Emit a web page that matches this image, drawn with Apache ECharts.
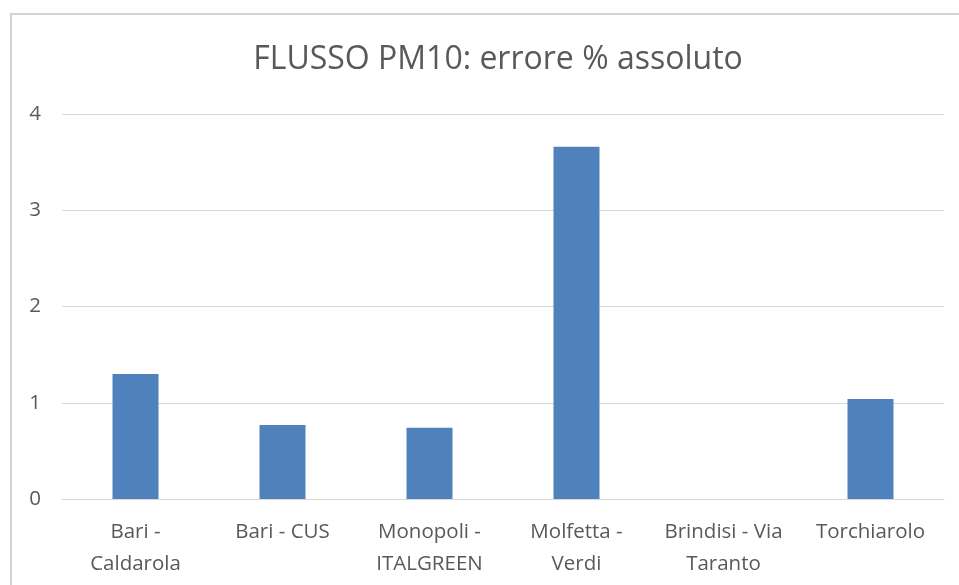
<!DOCTYPE html>
<html>
<head>
<meta charset="utf-8">
<script src="https://cdn.jsdelivr.net/npm/echarts@6/dist/echarts.min.js"></script>
<style>
  html, body { margin: 0; padding: 0; background: #fff; }
  #chart { width: 959px; height: 585px; }
</style>
</head>
<body>
<div id="chart"></div>
<script>
// stazioni (with the line breaks used on the axis)
const categories = [
  'Bari -\nCaldarola',
  'Bari - CUS',
  'Monopoli -\nITALGREEN',
  'Molfetta -\nVerdi',
  'Brindisi - Via\nTaranto',
  'Torchiarolo'
]
const errore = [1.30, 0.77, 0.74, 3.66, 0, 1.04]
const yTicks = [0, 1, 2, 3, 4]

const chart = echarts.init(document.getElementById('chart'))
const labelFont = '"Open Sans", sans-serif'

chart.setOption({
  animation: false,
  title: {
    text: 'FLUSSO PM10: errore % assoluto',
    left: 493,
    top: 39,
    textAlign: 'center',
    textStyle: {
      fontFamily: labelFont,
      fontSize: 32,
      fontWeight: 'normal',
      color: '#595959'
    }
  },
  graphic: [
    {
      type: 'rect',
      shape: { x: 11, y: 14, width: 980, height: 620 },
      style: { fill: 'none', stroke: '#d4d4d4', lineWidth: 2 },
      silent: true
    }
  ],
  grid: {
    left: 62,
    right: 15,
    top: 114,
    bottom: 86
  },
  xAxis: {
    type: 'category',
    data: categories,
    axisTick: { show: false },
    axisLine: { show: true, lineStyle: { color: '#d9d9d9' } },
    axisLabel: {
      margin: 17,
      fontFamily: labelFont,
      fontSize: 20.5,
      lineHeight: 32,
      color: '#595959',
      interval: 0
    }
  },
  yAxis: {
    type: 'value',
    min: yTicks[0],
    max: yTicks[yTicks.length - 1],
    interval: 1,
    axisLine: { show: false },
    axisTick: { show: false },
    axisLabel: {
      margin: 21,
      fontFamily: labelFont,
      fontSize: 20.5,
      color: '#595959'
    },
    splitLine: { lineStyle: { color: '#d9d9d9', width: 1 } }
  },
  series: [
    {
      type: 'bar',
      data: errore,
      barWidth: 46,
      itemStyle: { color: '#4f81bd' }
    }
  ]
})
</script>
</body>
</html>
